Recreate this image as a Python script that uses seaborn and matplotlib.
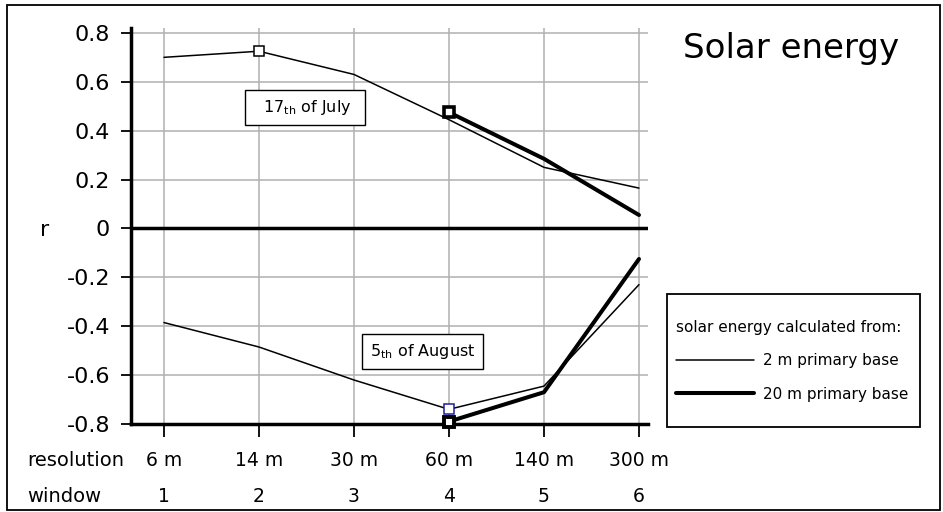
import matplotlib
matplotlib.use("Agg")
import matplotlib.pyplot as plt
import matplotlib.transforms as mtransforms
from matplotlib.lines import Line2D
from matplotlib.patches import Rectangle
import seaborn as sns

# ===================== DATA =====================

windows = [1, 2, 3, 4, 5, 6]
resolutions = ["6 m", "14 m", "30 m", "60 m", "140 m", "300 m"]

# 17th of July
july_2m = [0.70, 0.725, 0.63, 0.445, 0.25, 0.165]
july_20m_windows = [4, 5, 6]
july_20m = [0.475, 0.285, 0.055]

# 5th of August
aug_2m = [-0.385, -0.485, -0.62, -0.74, -0.645, -0.23]
aug_20m_windows = [4, 5, 6]
aug_20m = [-0.79, -0.67, -0.125]

y_ticks = [-0.8, -0.6, -0.4, -0.2, 0.0, 0.2, 0.4, 0.6, 0.8]
y_tick_labels = ["-0.8", "-0.6", "-0.4", "-0.2", "0", "0.2", "0.4", "0.6", "0.8"]

legend_title = "solar energy calculated from:"
legend_labels = ["2 m primary base", "20 m primary base"]

# ===================== STYLE =====================

sns.set_theme(style="ticks")
plt.rcParams["font.family"] = ["DejaVu Sans"]
plt.rcParams["mathtext.fontset"] = "dejavusans"
plt.rcParams["text.color"] = "black"
plt.rcParams["xtick.color"] = "black"
plt.rcParams["ytick.color"] = "black"
plt.rcParams["legend.labelcolor"] = "black"

W, H = 943, 512
fig = plt.figure(figsize=(W / 100, H / 100), dpi=100)
fig.patch.set_facecolor("white")
ax = fig.add_axes([131 / W, (H - 424) / H, 517 / W, 396 / H])

thin, thick = 1.1, 2.9

# ===================== LINES =====================

sns.lineplot(x=windows, y=july_2m, ax=ax, color="black", lw=thin, zorder=3)
sns.lineplot(x=july_20m_windows, y=july_20m, ax=ax, color="black", lw=thick, zorder=3)
sns.lineplot(x=windows, y=aug_2m, ax=ax, color="black", lw=thin, zorder=3)
sns.lineplot(x=aug_20m_windows, y=aug_20m, ax=ax, color="black", lw=thick, zorder=3)

# markers
ax.plot(windows[1], july_2m[1], "s", ms=7.5, mfc="white", mec="black", mew=1.1, zorder=5)
ax.plot(july_20m_windows[0], july_20m[0], "s", ms=7.5, mfc="white", mec="black", mew=2.6, zorder=5)
ax.plot(windows[3], aug_2m[3], "s", ms=7.5, mfc="white", mec="#1e1ea0", mew=1.1, zorder=5)
ax.plot(aug_20m_windows[0], aug_20m[0], "s", ms=7.5, mfc="white", mec="black", mew=2.8,
        zorder=6, clip_on=False)

# ===================== AXES =====================

ax.set_xlim(0.653, 6.095)
ax.set_ylim(-0.8, 0.82)
ax.set_xticks(windows)
ax.set_xticklabels([])
ax.set_yticks(y_ticks)
ax.set_yticklabels(y_tick_labels)
ax.grid(True, color="#b0b0b0", lw=1.1, zorder=0)
ax.set_xlabel("")
ax.set_ylabel("")

for side in ("top", "right"):
    ax.spines[side].set_visible(False)
for side in ("left", "bottom"):
    ax.spines[side].set_linewidth(2.5)
    ax.spines[side].set_color("black")
ax.axhline(0, color="black", lw=2.5, zorder=4)

ax.tick_params(axis="y", direction="out", length=7, width=1.3, pad=8,
               labelsize=16, color="black", labelcolor="black")
ax.tick_params(axis="x", direction="out", length=9, width=1.3, color="black")

# two rows of x labels
xtrans = ax.get_xaxis_transform()
for w, res in zip(windows, resolutions):
    ax.text(w, -0.106, res, transform=xtrans, ha="center", va="baseline", fontsize=13.5)
    ax.text(w, -0.197, str(w), transform=xtrans, ha="center", va="baseline", fontsize=13.5)
fig.text(27 / W, 1 - 466 / H, "resolution", ha="left", va="baseline", fontsize=14)
fig.text(27 / W, 1 - 502 / H, "window", ha="left", va="baseline", fontsize=14)

rtrans = mtransforms.blended_transform_factory(fig.transFigure, ax.transData)
ax.text(45 / W, 0, "r", transform=rtrans, ha="center", va="center_baseline", fontsize=16)

# annotations
box = dict(boxstyle="square,pad=0.5", fc="white", ec="black", lw=1.0)
ax.text(2.484, 0.493, r"  17$_{\mathrm{th}}$ of July  ", ha="center", va="center",
        fontsize=11.5, bbox=box, zorder=6)
ax.text(3.72, -0.503, r"5$_{\mathrm{th}}$ of August", ha="center", va="center",
        fontsize=11.5, bbox=box, zorder=6)

# title
fig.text(683 / W, 1 - 58 / H, "Solar energy", ha="left", va="baseline", fontsize=24.5)

# legend
handles = [Line2D([], [], color="black", lw=thin), Line2D([], [], color="black", lw=thick)]
leg = ax.legend(handles, legend_labels, title=legend_title, loc="upper left",
                bbox_to_anchor=(676 / W, 1 - 320 / H), bbox_transform=fig.transFigure,
                frameon=False, fontsize=11, title_fontsize=11, handlelength=5.1,
                handletextpad=0.6, labelspacing=1.2, borderpad=0, borderaxespad=0,
                alignment="left")
leg.get_title().set_color("black")
fig.add_artist(Rectangle((667 / W, 1 - 427 / H), 253 / W, 133 / H, transform=fig.transFigure,
                         fill=False, ec="black", lw=1.3))

# outer border
fig.add_artist(Rectangle((7 / W, 2 / H), 933 / W, 505 / H, transform=fig.transFigure,
                         fill=False, ec="black", lw=1.3))

fig.savefig("out.png", dpi=100)
